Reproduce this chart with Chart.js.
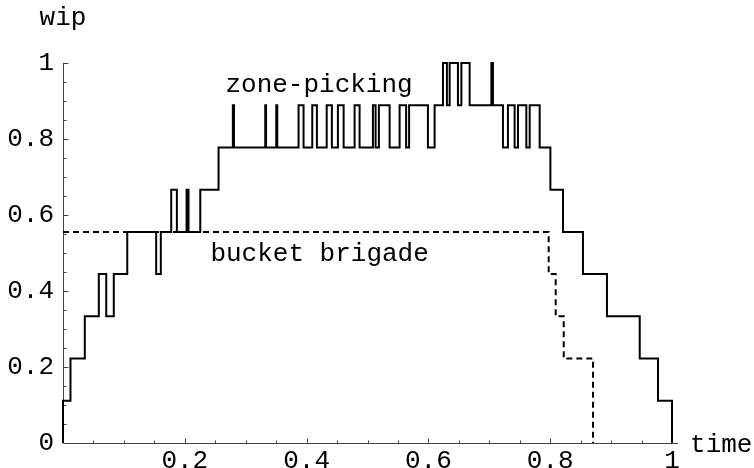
<!DOCTYPE html>
<html><head><meta charset="utf-8">
<script src="https://cdn.jsdelivr.net/npm/chart.js@4.4.1/dist/chart.umd.min.js"></script>
<style>html,body{margin:0;padding:0;background:#fff;} canvas{display:block;}</style>
</head><body>
<canvas id="c" width="754" height="468"></canvas>
<script>
// zone-picking: change times and wip level (in ninths) from that time on
const zoneTimes = [0, 0, 0.0123, 0.0358, 0.0588, 0.071, 0.0834, 0.1055, 0.153, 0.1606, 0.1777, 0.187, 0.2029, 0.2061, 0.2254, 0.2554,
  0.2789, 0.2808, 0.3321, 0.3334, 0.3502, 0.3518, 0.3868, 0.3950, 0.4093, 0.4169, 0.4330, 0.4415, 0.4514, 0.4608, 0.4788, 0.4870,
  0.5089, 0.5133, 0.5187, 0.5363, 0.5527, 0.5634, 0.5683, 0.5992, 0.6102, 0.6239, 0.6304, 0.6349, 0.6485, 0.6541, 0.6677,
  0.7034, 0.7060, 0.7224, 0.7306, 0.7416, 0.7471, 0.7608, 0.7663, 0.7827, 0.8003, 0.8210, 0.8538, 0.8932, 0.9470, 0.9770, 1.0];
const zoneLevels = [0, 1, 2, 3, 4, 3, 4, 5, 4, 5, 6, 5, 6, 5, 6, 7,
  8, 7, 8, 7, 8, 7, 8, 7, 8, 7, 8, 7, 8, 7, 8, 7,
  8, 7, 8, 7, 8, 7, 8, 7, 8, 9, 8, 9, 8, 9, 8,
  9, 8, 7, 8, 7, 8, 7, 8, 7, 6, 5, 4, 3, 2, 1, 0];
// bucket brigade
const bucketTimes = [0, 0.7975, 0.809, 0.8222, 0.8703];
const bucketLevels = [5, 4, 3, 2, 0];

const xTickValues = [0, 0.2, 0.4, 0.6, 0.8, 1];
const xTickLabels = ['', '0.2', '0.4', '0.6', '0.8', '1'];
const yTickValues = [0, 0.2, 0.4, 0.6, 0.8, 1];
const yTickLabels = ['0', '0.2', '0.4', '0.6', '0.8', '1'];
const minorTickValues = [0.05,0.1,0.15,0.2,0.25,0.3,0.35,0.4,0.45,0.5,0.55,0.6,0.65,0.7,0.75,0.8,0.85,0.9,0.95,1];

const labelTexts = ['zone-picking', 'bucket brigade', 'wip', 'time'];
const labelAnchors = [
  {x: 0.2667, y: 0.925, align: 'left'},
  {x: 0.242, y: 0.479, align: 'left'},
  {x: 0, y: 1.1, align: 'center'},
  {x: 1.0296, y: -0.0224, align: 'left'}
];

const FAMILY = '"Liberation Mono", "Courier New", "DejaVu Sans Mono", monospace';
const SIZE = 26;

const toPts = (ts, ls) => ts.map((t, i) => ({x: t, y: ls[i] / 9}));

const axesPlugin = {
  id: 'axesPlugin',
  beforeDatasetsDraw(chart) {
    const {ctx, scales: {x, y}} = chart;
    const ax = Math.floor(x.getPixelForValue(0)) + 0.5;
    const ay = Math.floor(y.getPixelForValue(0)) + 0.5;
    const xr = x.right;
    const yt = y.getPixelForValue(1);
    ctx.save();
    ctx.strokeStyle = '#444';
    ctx.lineWidth = 1;
    ctx.beginPath();
    ctx.moveTo(ax, ay); ctx.lineTo(xr, ay);
    ctx.moveTo(ax, ay); ctx.lineTo(ax, yt);
    minorTickValues.forEach(v => {
      const major = Math.abs(v * 5 - Math.round(v * 5)) < 1e-6;
      const len = major ? 5 : 3;
      const px = Math.round(x.getPixelForValue(v)) + 0.5;
      ctx.moveTo(px, ay); ctx.lineTo(px, ay - len);
      const py = Math.round(y.getPixelForValue(v)) + 0.5;
      ctx.moveTo(ax, py); ctx.lineTo(ax + len, py);
    });
    ctx.stroke();
    ctx.restore();
  },
  afterDraw(chart) {
    const {ctx, scales: {x, y}} = chart;
    ctx.save();
    ctx.fillStyle = '#000';
    ctx.font = SIZE + 'px ' + FAMILY;
    ctx.textBaseline = 'alphabetic';
    labelTexts.forEach((t, i) => {
      const a = labelAnchors[i];
      ctx.textAlign = a.align;
      ctx.fillText(t, x.getPixelForValue(a.x), y.getPixelForValue(a.y));
    });
    ctx.restore();
  }
};

new Chart(document.getElementById('c'), {
  type: 'line',
  data: {
    datasets: [
      {label: 'zone-picking', data: toPts(zoneTimes, zoneLevels), borderColor: '#000', borderWidth: 2,
       stepped: true, pointRadius: 0, fill: false, clip: false, borderJoinStyle: 'miter', borderCapStyle: 'butt'},
      {label: 'bucket brigade', data: toPts(bucketTimes, bucketLevels), borderColor: '#000', borderWidth: 2,
       borderDash: [6, 4], stepped: true, pointRadius: 0, fill: false, clip: false, borderJoinStyle: 'miter', borderCapStyle: 'butt'}
    ]
  },
  options: {
    responsive: false, animation: false, devicePixelRatio: 1,
    layout: {padding: {top: 63, right: 75.9, bottom: 0, left: 0}},
    plugins: {legend: {display: false}, tooltip: {enabled: false}},
    scales: {
      x: {type: 'linear', min: 0, max: 1.01,
        grid: {display: false, drawTicks: false}, border: {display: false},
        afterBuildTicks: s => { s.ticks = xTickValues.map(v => ({value: v})); },
        afterFit: s => { s.height = 25; },
        ticks: {padding: 3, color: '#000', font: {family: FAMILY, size: SIZE}, maxRotation: 0, minRotation: 0, autoSkip: false,
          callback: (v, i) => xTickLabels[i]}},
      y: {type: 'linear', min: 0, max: 1,
        grid: {display: false, drawTicks: false}, border: {display: false},
        afterBuildTicks: s => { s.ticks = yTickValues.map(v => ({value: v})); },
        afterFit: s => { s.width = 63; },
        ticks: {padding: 9, color: '#000', font: {family: FAMILY, size: SIZE}, autoSkip: false,
          callback: (v, i) => yTickLabels[i]}}
    }
  },
  plugins: [axesPlugin]
});
</script>
</body></html>
